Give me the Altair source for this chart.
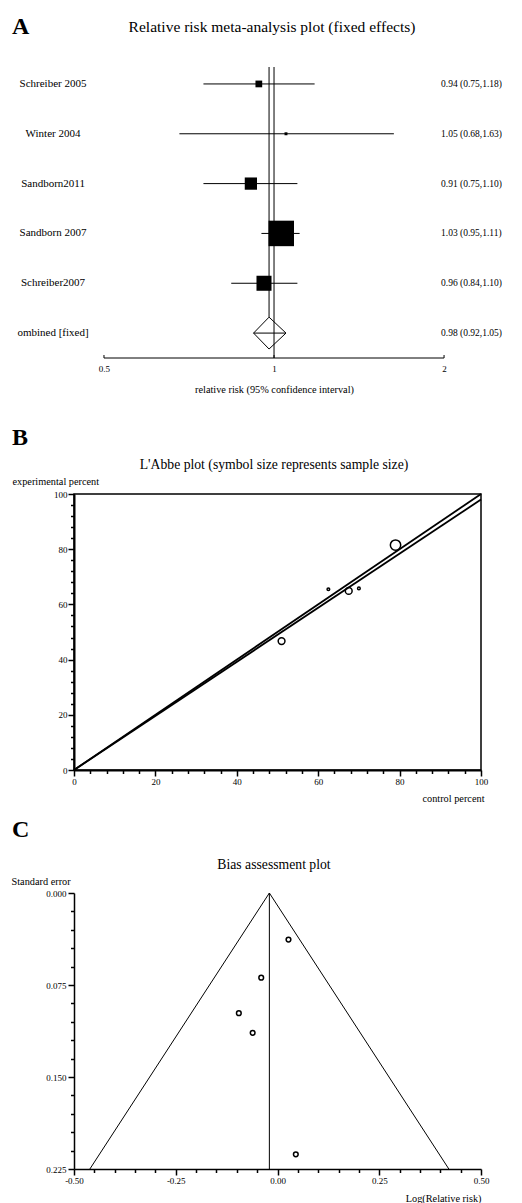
import altair as alt
import pandas as pd

FONT = "Liberation Serif"
W = 407
H_A = 291
H_B = 276
H_C = 276
LAB = 9        # tick label font size
TIT = 10.3     # axis title font size

# ---------------- Panel A: forest plot data ----------------
studies = ["Schreiber 2005", "Winter 2004", "Sandborn2011", "Sandborn 2007", "Schreiber2007"]
rr = [0.94, 1.05, 0.91, 1.03, 0.96]
ci_low = [0.75, 0.68, 0.75, 0.95, 0.84]
ci_high = [1.18, 1.63, 1.10, 1.11, 1.10]
weight_pct = [4.2, 0.8, 13.9, 60.2, 20.9]
pooled_label = "ombined [fixed]"
pooled_rr = 0.98
pooled_low = 0.92
pooled_high = 1.05
forest_ticks = [0.5, 1, 2]

# ---------------- Panel B: L'Abbe plot data ----------------
control_pct = [70.0, 62.5, 51.0, 79.0, 67.5]
experimental_pct = [65.8, 65.5, 46.7, 81.5, 64.9]
sample_share = [3.3, 3.3, 21.6, 50.2, 21.6]
labbe_ticks = list(range(0, 101, 4))

# ---------------- Panel C: bias (funnel) plot data ----------------
log_rr = [-0.061, 0.045, -0.095, 0.027, -0.040]
std_err = [0.114, 0.213, 0.098, 0.038, 0.069]
pooled_log_rr = -0.02
funnel_x = [-0.461, -0.02, 0.421]
funnel_y = [0.225, 0.0, 0.225]
bias_x_ticks = [round(-0.5 + 0.05 * i, 2) for i in range(21)]
bias_y_ticks = [round(0.015 * i, 3) for i in range(16)]

n = len(studies)
rows = list(range(n))
pooled_row = n

# ======================= Panel A =======================
df_a = pd.DataFrame({
    "study": studies, "rr": rr, "lo": ci_low, "hi": ci_high,
    "w": weight_pct, "row": rows,
    "lab": [f"{r:.2f} ({l:.2f},{h:.2f})" for r, l, h in zip(rr, ci_low, ci_high)],
})
df_pool = pd.DataFrame({
    "study": [pooled_label], "rr": [pooled_rr], "lo": [pooled_low], "hi": [pooled_high],
    "row": [pooled_row],
    "lab": [f"{pooled_rr:.2f} ({pooled_low:.2f},{pooled_high:.2f})"],
})
df_labels = pd.concat([df_a[["study", "row", "lab"]], df_pool[["study", "row", "lab"]]])
dh = 0.32
df_diamond = pd.DataFrame({
    "x": [pooled_low, pooled_rr, pooled_high, pooled_rr, pooled_low],
    "y": [pooled_row, pooled_row - dh, pooled_row, pooled_row + dh, pooled_row],
    "o": [0, 1, 2, 3, 4],
})
Y_TOP_A, Y_BOT_A = -0.34, 5.5
df_axis_a = pd.DataFrame({"x": [forest_ticks[0]], "x2": [forest_ticks[-1]], "y": [Y_BOT_A]})
df_ref1 = pd.DataFrame({"x": [1.0], "y": [Y_TOP_A], "y2": [Y_BOT_A]})
df_refp = pd.DataFrame({"x": [pooled_rr], "y": [Y_TOP_A], "y2": [pooled_row - dh]})
df_ticks_a = pd.DataFrame({"x": forest_ticks, "y": [Y_BOT_A] * 3})

xs_a = alt.Scale(type="log", domain=[0.4425, 2.325])
ys_a = alt.Scale(domain=[Y_TOP_A, Y_BOT_A], reverse=True, zero=False, nice=False)
ax_a = alt.Axis(values=forest_ticks, domain=False, ticks=False, grid=False,
                labelExpr="format(datum.value, '~g')", labelPadding=6,
                labelFontSize=LAB,
                title="relative risk (95% confidence interval)",
                titleX=200, titleY=31, titleBaseline="middle", titleAlign="center")


def XA(field):
    return alt.X(field, type="quantitative", scale=xs_a, axis=ax_a)


def YA(field):
    return alt.Y(field, type="quantitative", scale=ys_a, axis=None)


base_a = alt.Chart(df_a)
ci_lines = base_a.mark_rule(color="black", strokeWidth=1).encode(
    x=XA("lo"), x2="hi", y=YA("row"))
squares = base_a.mark_square(color="black", filled=True, opacity=1).encode(
    x=XA("rr"), y=YA("row"),
    size=alt.Size("w:Q", scale=alt.Scale(domain=[0, 100], range=[0, 1080]), legend=None))
pool_line = alt.Chart(df_pool).mark_rule(color="black", strokeWidth=1).encode(
    x=XA("lo"), x2="hi", y=YA("row"))
diamond = alt.Chart(df_diamond).mark_line(color="black", strokeWidth=1).encode(
    x=XA("x"), y=YA("y"), order="o:O")
ref1 = alt.Chart(df_ref1).mark_rule(color="black", strokeWidth=1).encode(
    x=XA("x"), y=YA("y"), y2="y2")
refp = alt.Chart(df_refp).mark_rule(color="black", strokeWidth=1).encode(
    x=XA("x"), y=YA("y"), y2="y2")
axis_line = alt.Chart(df_axis_a).mark_rule(color="black", strokeWidth=1).encode(
    x=XA("x"), x2="x2", y=YA("y"))
axis_ticks = alt.Chart(df_ticks_a).mark_rule(color="black", strokeWidth=1,
                                             y2Offset=-3).encode(
    x=XA("x"), y=YA("y"), y2="y")
left_lab = alt.Chart(df_labels).mark_text(font=FONT, fontSize=11, align="center",
                                          baseline="middle", color="black").encode(
    x=alt.value(-21), y=YA("row"), text="study:N")
right_lab = alt.Chart(df_labels).mark_text(font=FONT, fontSize=9.5, align="left",
                                           baseline="middle", color="black").encode(
    x=alt.value(367), y=YA("row"), text="lab:N")


def header(letter, title, ly, ty, tsize, tx=200):
    df = pd.DataFrame({"l": [letter], "t": [title]})
    l = alt.Chart(df).mark_text(font=FONT, fontSize=24, fontWeight="bold", align="left",
                                baseline="alphabetic", color="black").encode(
        x=alt.value(-62), y=alt.value(ly), text="l:N")
    t = alt.Chart(df).mark_text(font=FONT, fontSize=tsize, align="center",
                                baseline="alphabetic", color="black").encode(
        x=alt.value(tx), y=alt.value(ty), text="t:N")
    return l + t


panel_a = alt.layer(
    ref1, refp, ci_lines, pool_line, squares, diamond, axis_line, axis_ticks,
    left_lab, right_lab,
    header("A", "Relative risk meta-analysis plot (fixed effects)", -33, -35, 15.5, 198),
).properties(width=W, height=H_A)


# minor ticks: same 6px tick, dashed so only the first 3.5px show
def minor_dash(test):
    return {"condition": {"test": test, "value": [6, 0]}, "value": [3.5, 20]}


# ======================= Panel B =======================
df_b = pd.DataFrame({"study": studies, "c": control_pct, "e": experimental_pct,
                     "s": sample_share})
df_lines_b = pd.DataFrame({
    "c": [0, 100, 0, 100],
    "e": [0, 100, 0, 100 * pooled_rr],
    "g": ["equal", "equal", "pooled", "pooled"],
})
major_b = "datum.value % 20 === 0"
xs_b = alt.Scale(domain=[0, 100], nice=False, zero=False)
ys_b = alt.Scale(domain=[0, 100], nice=False, zero=False)
ax_bx = alt.Axis(values=labbe_ticks, grid=False, domainWidth=2,
                 ticks=True, tickSize=6, tickWidth=1.5, tickDash=minor_dash(major_b),
                 labelExpr=f"{major_b} ? datum.label : ''",
                 labelPadding=1.5, labelFontSize=LAB, labelFlush=False,
                 title="control percent", titleAlign="right", titleX=W + 3,
                 titleY=28, titleBaseline="middle")
ax_by = alt.Axis(values=labbe_ticks, grid=False, domainWidth=2,
                 ticks=True, tickSize=6, tickWidth=1.5, tickDash=minor_dash(major_b),
                 labelExpr=f"{major_b} ? datum.label : ''",
                 labelPadding=1, labelFontSize=LAB, labelFlush=False,
                 title="experimental percent", titleAngle=0, titleAlign="left",
                 titleX=-62, titleY=-13, titleBaseline="middle")


def XB(f):
    return alt.X(f, type="quantitative", scale=xs_b, axis=ax_bx)


def YB(f):
    return alt.Y(f, type="quantitative", scale=ys_b, axis=ax_by)


lines_b = alt.Chart(df_lines_b).mark_line(color="black", strokeWidth=1.8).encode(
    x=XB("c"), y=YB("e"), detail="g:N")
pts_b = alt.Chart(df_b).mark_point(shape="circle", filled=False, color="black",
                                   strokeWidth=1.5, opacity=1).encode(
    x=XB("c"), y=YB("e"),
    size=alt.Size("s:Q", scale=alt.Scale(domain=[0, 50.2], range=[0, 107]), legend=None))

panel_b = alt.layer(
    lines_b, pts_b,
    header("B", "L'Abbe plot (symbol size represents sample size)", -49, -25, 13.7),
).properties(width=W, height=H_B,
             view=alt.ViewBackground(stroke="black", strokeWidth=1.5))

# ======================= Panel C =======================
df_c = pd.DataFrame({"study": studies, "x": log_rr, "se": std_err})
df_funnel = pd.DataFrame({"x": funnel_x, "y": funnel_y, "o": [0, 1, 2]})
df_vline = pd.DataFrame({"x": [pooled_log_rr], "y": [0.0], "y2": [0.225]})
major_cx = "round(datum.value * 100) % 25 === 0"
major_cy = "round(datum.value * 1000) % 75 === 0"
xs_c = alt.Scale(domain=[-0.5, 0.5], nice=False, zero=False)
ys_c = alt.Scale(domain=[0, 0.225], nice=False, zero=False, reverse=True)
ax_cx = alt.Axis(values=bias_x_ticks, grid=False, domainWidth=1.5,
                 ticks=True, tickSize=6, tickWidth=1.5, tickDash=minor_dash(major_cx),
                 labelExpr=f"{major_cx} ? replace(format(datum.value, '.2f'), '\u2212', '-') : ''",
                 labelPadding=1, labelFontSize=LAB, labelFlush=False,
                 title="Log(Relative risk)", titleAlign="right", titleX=W,
                 titleY=29, titleBaseline="middle")
ax_cy = alt.Axis(values=bias_y_ticks, grid=False, domainWidth=1.5,
                 ticks=True, tickSize=6, tickWidth=1.5, tickDash=minor_dash(major_cy),
                 labelExpr=f"{major_cy} ? format(datum.value, '.3f') : ''",
                 labelPadding=2, labelFontSize=LAB, labelFlush=False,
                 title="Standard error", titleAngle=0, titleAlign="left",
                 titleX=-63, titleY=-12, titleBaseline="middle")


def XC(f):
    return alt.X(f, type="quantitative", scale=xs_c, axis=ax_cx)


def YC(f):
    return alt.Y(f, type="quantitative", scale=ys_c, axis=ax_cy)


funnel = alt.Chart(df_funnel).mark_line(color="black", strokeWidth=1).encode(
    x=XC("x"), y=YC("y"), order="o:O")
vline = alt.Chart(df_vline).mark_rule(color="black", strokeWidth=1).encode(
    x=XC("x"), y=YC("y"), y2="y2")
pts_c = alt.Chart(df_c).mark_point(shape="circle", filled=False, color="black",
                                   strokeWidth=1.5, size=22, opacity=1).encode(
    x=XC("x"), y=YC("se"))

panel_c = alt.layer(
    funnel, vline, pts_c,
    header("C", "Bias assessment plot", -56, -24, 13.7),
).properties(width=W, height=H_C)

top = alt.vconcat(panel_a, panel_b, spacing=30).resolve_scale(size="independent")
chart = alt.vconcat(top, panel_c, spacing=13).resolve_scale(
    size="independent"
).properties(
    padding={"top": 7, "left": 3, "right": 0, "bottom": 0}
).configure_view(stroke=None).configure_axis(
    labelFont=FONT, titleFont=FONT, labelColor="black", titleColor="black",
    domainColor="black", tickColor="black", titleFontSize=TIT,
    titleFontWeight="normal",
)

chart.save("out.html", embed_options={"renderer": "svg", "actions": False})
